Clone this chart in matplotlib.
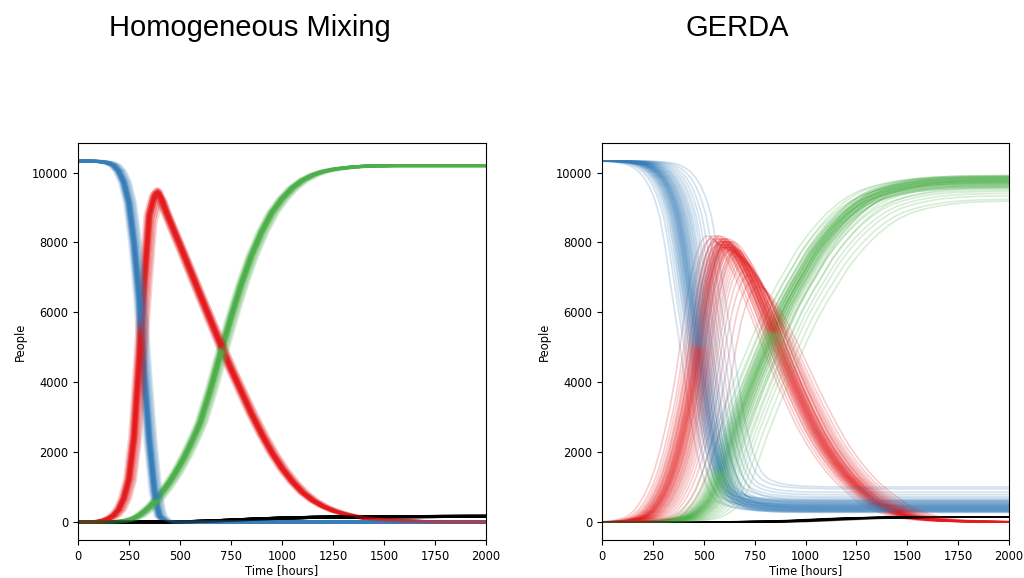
import numpy as np
import matplotlib
matplotlib.use("Agg")
import matplotlib.pyplot as plt

N0 = 10330

# ---------------- Homogeneous Mixing: median trajectories ----------------
hm_t = [0, 25, 50, 75, 100, 125, 150, 175, 200, 225, 250, 275, 300, 325, 350, 375, 390,
        400, 425, 450, 475, 500, 525, 550, 575, 600,
        650, 700, 750, 800, 850, 900, 950, 1000, 1050, 1100, 1150, 1200, 1250, 1300,
        1350, 1400, 1450, 1500, 1550, 1600, 1650, 1700, 1750, 1800, 1850, 1900, 1950, 2000]
hm_S = [10330, 10330, 10328, 10325, 10318, 10302, 10272, 10205, 10040, 9720, 9130, 7980, 6420,
        4220, 2330, 880, 400,
        170, 25, 3, 0, 0, 0, 0, 0, 0,
        0, 0, 0, 0, 0, 0, 0, 0, 0, 0, 0, 0, 0, 0,
        0, 0, 0, 0, 0, 0, 0, 0, 0, 0, 0, 0, 0, 0]
hm_I = [0, 0, 0, 3, 15, 45, 100, 190, 360, 680, 1230, 2450, 4650, 6850, 8780, 9330, 9440,
        9400, 8980, 8620, 8270, 7920, 7560, 7200, 6840, 6480,
        5770, 5060, 4380, 3740, 3100, 2520, 1990, 1540, 1160, 850, 620, 450, 325, 235,
        165, 115, 80, 55, 37, 25, 17, 11, 7, 5, 3, 2, 1, 1]
hm_R = [0, 0, 0, 0, 0, 0, 2, 5, 15, 30, 60, 110, 190, 300, 430, 580, 680,
        760, 950, 1150, 1380, 1630, 1900, 2200, 2520, 2860,
        3800, 4850, 5850, 6800, 7620, 8300, 8850, 9250, 9560, 9780, 9930, 10030, 10090, 10130,
        10160, 10180, 10190, 10195, 10200, 10200, 10200, 10200, 10200, 10200, 10200, 10200, 10200, 10200]
hm_D = [0, 0, 0, 0, 0, 0, 0, 0, 0, 0, 0, 0, 0, 0, 0, 0, 0,
        0, 0, 2, 3, 5, 7, 10, 14, 18,
        28, 40, 52, 65, 78, 90, 100, 110, 118, 125, 131, 136, 140, 143,
        146, 148, 150, 151, 152, 153, 154, 155, 156, 157, 158, 159, 160, 160]

# per-run variation (time shift in hours, peak scale)
hm_shift = [-22, -16, -13, -11, -9, -8, -7, -6, -5, -4, -3, -3, -2, -1, -1, 0, 0,
            1, 1, 2, 3, 3, 4, 5, 6, 7, 8, 9, 11, 13, 16, 20, 26, 32]
hm_peak = [1.00, 0.995, 1.005, 1.0, 0.99, 1.01, 1.0, 0.995, 1.005, 1.0, 0.99, 1.0, 1.01, 1.0,
           0.995, 1.005, 1.0, 0.99, 1.0, 1.005, 0.995, 1.0, 1.01, 0.99, 1.0, 0.995, 1.0, 0.99,
           1.005, 0.985, 0.99, 0.98, 0.985, 0.975]

# ---------------- GERDA: median trajectories ----------------
g_t = [0, 50, 100, 150, 200, 225, 250, 275, 300, 325, 350, 375, 400, 425, 450, 475, 500,
       525, 550, 575, 600, 625, 650, 675, 700,
       750, 800, 850, 900, 950, 1000, 1050, 1100, 1150, 1200, 1250, 1300, 1350, 1400,
       1450, 1500, 1550, 1600, 1650, 1700, 1750, 1800, 1850, 1900, 1950, 2000]
g_S = [10330, 10330, 10322, 10300, 10250, 10200, 10120, 10000, 9830, 9580, 9220, 8720, 7900,
       6900, 5950, 5000, 4000, 3000, 2200, 1600, 1150, 850, 680, 600, 540,
       470, 440, 420, 410, 405, 402, 400, 400, 400, 400, 400, 400, 400, 400,
       400, 400, 400, 400, 400, 400, 400, 400, 400, 400, 400, 400]
g_I = [0, 0, 10, 40, 120, 200, 330, 530, 780, 1100, 1500, 2000, 2600, 3250, 4050, 5000, 6000,
       6850, 7450, 7850, 8030, 8000, 7870, 7650, 7400,
       6800, 6100, 5350, 4600, 3900, 3250, 2650, 2150, 1720, 1350, 1050, 800, 540, 390,
       270, 170, 110, 75, 50, 33, 22, 15, 10, 7, 4, 3]
g_R = [0, 0, 0, 0, 2, 4, 8, 14, 22, 35, 52, 75, 105, 150, 220, 320, 450,
       620, 880, 1250, 1700, 2150, 2600, 3000, 3400,
       4150, 4850, 5550, 6200, 6750, 7250, 7750, 8150, 8500, 8800, 9050, 9250, 9400, 9500,
       9580, 9640, 9690, 9720, 9745, 9760, 9770, 9778, 9783, 9786, 9788, 9790]
g_D = [0, 0, 0, 0, 0, 0, 0, 0, 0, 0, 0, 0, 0, 0, 0, 0, 0,
       0, 0, 0, 0, 1, 2, 3, 4,
       7, 10, 12, 20, 32, 45, 58, 72, 85, 97, 107, 115, 122, 127,
       131, 134, 137, 139, 140, 141, 142, 143, 144, 145, 145, 145]

g_shift = [-90, -72, -60, -52, -46, -41, -37, -33, -30, -27, -24, -21, -18, -16, -14, -12,
           -10, -8, -6, -4, -2, 0, 1, 3, 5, 7, 9, 11, 13, 15, 17, 20, 23, 26, 29, 32,
           35, 39, 43, 47, 52, 57, 63, 70, 78, 88, 100, 115, 135, 160]
g_sfinal = [330, 450, 290, 520, 380, 600, 310, 470, 360, 560, 420, 280, 500, 350, 640, 400,
            320, 540, 440, 300, 480, 370, 590, 410, 340, 510, 270, 460, 390, 620, 330, 490,
            430, 310, 570, 380, 450, 350, 530, 410, 680, 470, 560, 400, 720, 620, 780, 850,
            950, 1000]
g_peak = [1.02, 1.01, 1.02, 1.00, 1.01, 1.02, 0.99, 1.01, 1.00, 1.02, 0.99, 1.00, 1.01, 0.98,
          1.00, 1.01, 0.99, 1.00, 0.98, 1.01, 0.99, 1.00, 0.98, 1.00, 0.99, 1.00, 0.98, 1.01,
          0.99, 0.98, 1.00, 0.97, 0.99, 0.98, 0.97, 1.00, 0.98, 0.96, 0.97, 0.96, 0.95, 0.97,
          0.95, 0.94, 0.93, 0.92, 0.90, 0.88, 0.86, 0.84]

C_S, C_I, C_R, C_D = "#377eb8", "#e41a1c", "#4daf4a", "black"


def padded(t, v, shift):
    t = np.asarray(t, float) + shift
    v = np.asarray(v, float)
    return np.concatenate([[-3000], t, [6000]]), np.concatenate([[v[0]], v, [v[-1]]])


def draw(ax, t, S, I, R, D, shifts, sfinals, peaks, lw, alpha):
    S = np.asarray(S, float); I = np.asarray(I, float)
    R = np.asarray(R, float); D = np.asarray(D, float)
    for sh, sf, pk in zip(shifts, sfinals, peaks):
        s_run = sf + (S - S[-1]) * (N0 - sf) / (N0 - S[-1])
        i_run = I * pk
        rf = R[-1] - (sf - S[-1])
        r_run = R * rf / R[-1]
        for vals, c in ((s_run, C_S), (i_run, C_I), (r_run, C_R), (D, C_D)):
            x, y = padded(t, vals, sh)
            ax.plot(x, y, color=c, lw=lw, alpha=alpha, solid_capstyle="butt")


fig = plt.figure(figsize=(10.24, 5.78), dpi=100)
ax1 = fig.add_axes([78 / 1024, 1 - 540 / 578, 408 / 1024, 397 / 578])
ax2 = fig.add_axes([602 / 1024, 1 - 540 / 578, 407 / 1024, 397 / 578])

draw(ax1, hm_t, hm_S, hm_I, hm_R, hm_D, hm_shift, [0] * len(hm_shift), hm_peak, 2.2, 0.2)
draw(ax2, g_t, g_S, g_I, g_R, g_D, g_shift, g_sfinal, g_peak, 1.2, 0.22)

for ax in (ax1, ax2):
    ax.set_xlim(0, 2000)
    ax.set_ylim(-516.5, 10846.5)
    ax.set_xticks([0, 250, 500, 750, 1000, 1250, 1500, 1750, 2000])
    ax.set_yticks([0, 2000, 4000, 6000, 8000, 10000])
    ax.tick_params(labelsize=8.3)
    ax.set_xlabel("Time [hours]", fontsize=8.3, labelpad=1)
    ax.set_ylabel("People", fontsize=8.3)

fig.text(250 / 1024, 1 - 36 / 578, "Homogeneous Mixing", ha="center", va="baseline",
         fontsize=21, family=["Liberation Sans", "DejaVu Sans"])
fig.text(737 / 1024, 1 - 36 / 578, "GERDA", ha="center", va="baseline",
         fontsize=21, family=["Liberation Sans", "DejaVu Sans"])

fig.savefig("out.png", dpi=100)
